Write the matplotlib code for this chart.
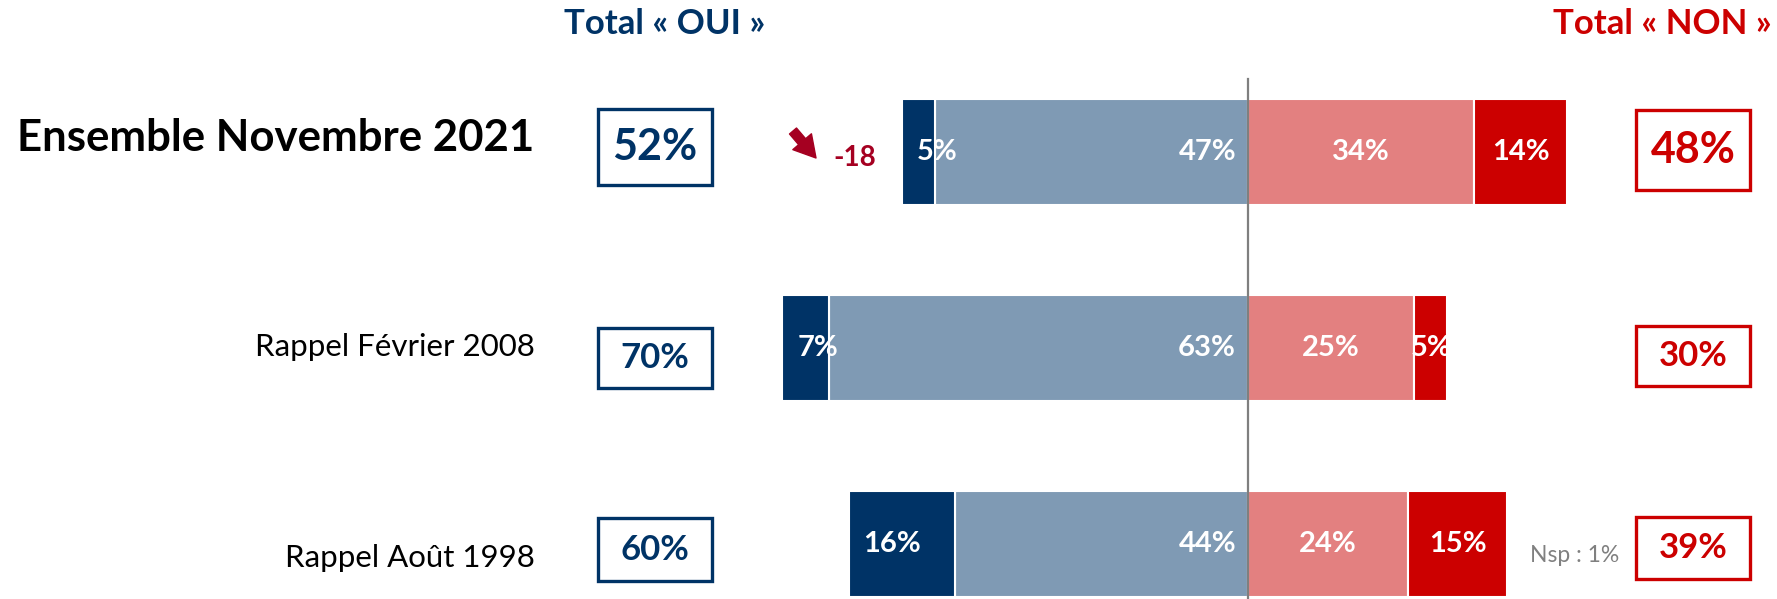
import matplotlib
matplotlib.use("Agg")
import matplotlib.pyplot as plt
import matplotlib.patches as patches

# données
rows = ["Ensemble Novembre 2021", "Rappel Février 2008", "Rappel Août 1998"]
oui_tout = [5, 7, 16]
oui_plutot = [47, 63, 44]
non_plutot = [34, 25, 24]
non_tout = [14, 5, 15]
total_oui = [52, 70, 60]
total_non = [48, 30, 39]

W, H = 1777, 599
bleu_fonce = "#003366"
bleu_clair = "#7F9AB4"
rose = "#E38080"
rouge = "#CC0000"
plt.rcParams['font.family'] = ['Lato', 'DejaVu Sans']

fig = plt.figure(figsize=(W / 100, H / 100), dpi=100)
ax = fig.add_axes([0, 0, 1, 1])
ppu = 6.65  # pixels par point de %
x0 = 1248
ax.set_xlim(-x0 / ppu, (W - x0) / ppu)
y_first, pas = 152, 196
ax.set_ylim((H - y_first) / pas, -y_first / pas)
ax.axis("off")


def fx(px):
    return px / W


def fy(py):
    return 1 - py / H


h = 0.54
for i in range(len(rows)):
    a, b, c, d = oui_tout[i], oui_plutot[i], non_plutot[i], non_tout[i]
    ax.barh(i, -b, height=h, color=bleu_clair, edgecolor="white", linewidth=1.5)
    ax.barh(i, -a, left=-b, height=h, color=bleu_fonce, edgecolor="white", linewidth=1.5)
    ax.barh(i, c, height=h, color=rose, edgecolor="white", linewidth=1.5)
    ax.barh(i, d, left=c, height=h, color=rouge, edgecolor="white", linewidth=1.5)
    kw = dict(color="white", fontsize=21, fontweight="bold", va="center")
    ax.text(-b - a + 2.2, i, f"{a}%", ha="left", **kw)
    ax.text(-1.8, i, f"{b}%", ha="right", **kw)
    ax.text(c / 2, i, f"{c}%", ha="center", **kw)
    ax.text(c + d / 2, i, f"{d}%", ha="center", **kw)

# ligne centrale
ax.plot([0, 0], [(79 - y_first) / pas, (H - y_first) / pas], color="#7F7F7F", lw=1.6)

# titres
fig.text(fx(665), fy(24), "Total « OUI »", color=bleu_fonce, fontsize=25,
         fontweight="bold", ha="center", va="center")
fig.text(fx(1662), fy(24), "Total « NON »", color=rouge, fontsize=25,
         fontweight="bold", ha="center", va="center")

# libellés des lignes
fig.text(fx(17), fy(138), rows[0], fontsize=31.5, fontweight="bold", ha="left", va="center")
fig.text(fx(535), fy(347), rows[1], fontsize=22.5, ha="right", va="center")
fig.text(fx(535), fy(558), rows[2], fontsize=22.5, ha="right", va="center")

# encadrés totaux
boxes_oui = [(109, 185), (328, 388), (518, 581)]
boxes_non = [(110, 190), (326, 386), (517, 579)]
tailles = [31, 25, 25]
for i in range(3):
    t, b = boxes_oui[i]
    fig.patches.append(patches.Rectangle((fx(598), fy(b)), (712 - 598) / W, (b - t) / H,
                                         transform=fig.transFigure, fill=False,
                                         edgecolor=bleu_fonce, lw=2.4))
    fig.text(fx(655), fy((t + b) / 2), f"{total_oui[i]}%", color=bleu_fonce,
             fontsize=tailles[i], fontweight="bold", ha="center", va="center")
    t, b = boxes_non[i]
    fig.patches.append(patches.Rectangle((fx(1636), fy(b)), (1750 - 1636) / W, (b - t) / H,
                                         transform=fig.transFigure, fill=False,
                                         edgecolor=rouge, lw=2.4))
    fig.text(fx(1693), fy((t + b) / 2), f"{total_non[i]}%", color=rouge,
             fontsize=tailles[i], fontweight="bold", ha="center", va="center")

# évolution
ax.annotate("", xy=(816, H - 158), xytext=(793, H - 131),
            xycoords="figure pixels", textcoords="figure pixels",
            arrowprops=dict(arrowstyle="simple,head_length=0.7,head_width=0.8,tail_width=0.3",
                            color="#A50021", mutation_scale=22, shrinkA=0, shrinkB=0))
fig.text(fx(833), fy(158), "-18", color="#A50021", fontsize=20, fontweight="bold",
         ha="left", va="center")
fig.text(fx(1530), fy(556), "Nsp : 1%", color="#808080", fontsize=16.5,
         ha="left", va="center")

fig.savefig("out.png", dpi=100)
